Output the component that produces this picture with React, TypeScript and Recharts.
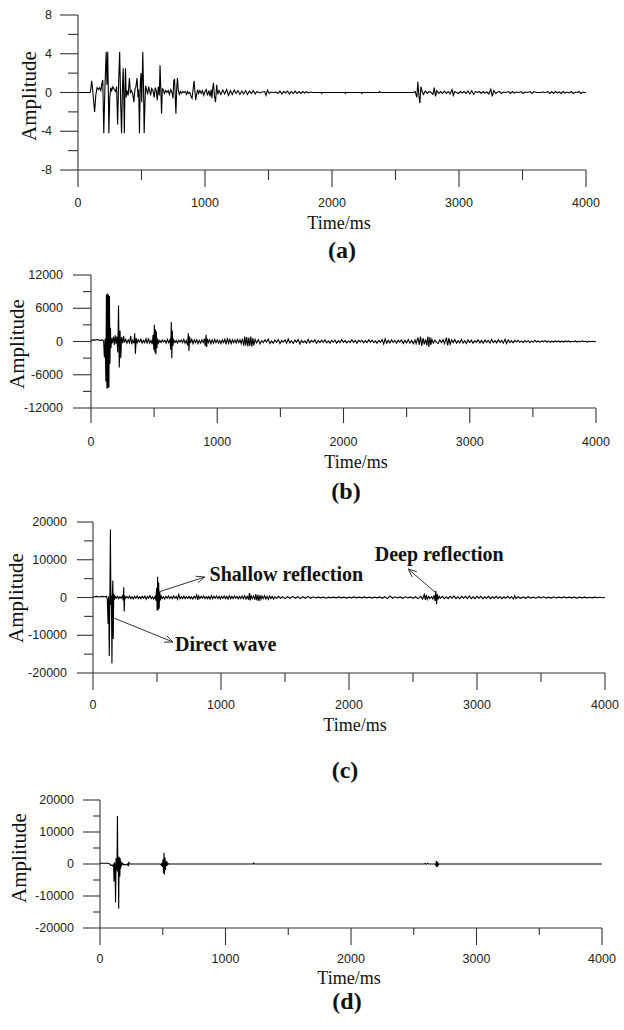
import React from 'react';
import { LineChart, Line, XAxis, YAxis, Label, ReferenceLine, ReferenceDot } from 'recharts';

// time axis (ms) shared by all four traces
const xTicks = [0, 500, 1000, 1500, 2000, 2500, 3000, 3500, 4000];
const yTicksA = [-8, -6, -4, -2, 0, 2, 4, 6, 8];
const yTicksB = [-12000, -9000, -6000, -3000, 0, 3000, 6000, 9000, 12000];
const yTicksCD = [-20000, -15000, -10000, -5000, 0, 5000, 10000, 15000, 20000];

// [time ms, amplitude]
const traceA: [number, number][] = [
  [0, 0], [95, 0], [100, 0.3], [108, 1.2], [116, 0.2], [124, -1.0], [131, -2.0], [140, -0.3], [150, 0.5],
  [160, 0.3], [170, 0.5], [180, 0.2], [188, 0.9], [195, 1.3], [203, -4.2], [212, 0.5], [222, 4.2], [228, 0.8],
  [234, 4.2], [240, -1.0], [243, -4.2], [250, -0.5], [258, 0.5], [265, 0.2], [275, 0.6], [285, 0.3], [296, 0.1],
  [304, 0.6], [312, -3.3], [320, 1.0], [328, 4.2], [336, -1.0], [343, -4.2], [350, 0.5], [356, 2.5], [361, -1.0],
  [365, -4.2], [370, 0.5], [374, 2.5], [380, -0.5], [386, 0.2], [395, -0.3], [405, 1.5], [412, 0.0], [420, 0.2],
  [430, -0.1], [440, -1.0], [448, 0.3], [456, 0.6], [465, 1.5], [472, -0.5], [478, 0.3], [484, -4.2], [490, 0.8],
  [496, 2.0], [502, -1.0], [510, 4.2], [516, 0.5], [521, -4.2], [527, -1.2], [532, 0.7], [540, 0.3], [548, -0.2],
  [556, 0.6], [564, 0.2], [572, -0.3], [580, 0.4], [590, 0.2], [600, -0.5], [608, 0.5], [616, 0.2], [624, -0.8],
  [632, 0.6], [640, -0.3], [646, 2.8], [652, 0.3], [658, -2.2], [664, 0.4], [672, 0.3], [680, -0.1], [690, 0.2],
  [700, 0.0], [710, 0.2], [720, -0.2], [730, 0.3], [740, 0.0], [748, -0.6], [754, 1.2], [760, 1.4], [766, -0.5],
  [771, -2.2], [777, 0.4], [783, 1.5], [790, 0.2], [798, -0.2], [806, 0.1], [815, -0.1], [825, 0.1], [835, 0.0],
  [845, 0.1], [855, -0.2], [862, 0.1], [870, -0.1], [880, 0.0], [890, -0.4], [898, -0.6], [906, 0.3], [914, 1.2],
  [920, 0.2], [927, -0.8], [934, -0.2], [942, 0.3], [950, -0.1], [960, 0.2], [970, -0.1], [980, 0.2], [990, -0.3],
  [1000, 0.1], [1010, 0.3], [1020, -0.3], [1030, 0.2], [1040, -0.4], [1048, 0.3], [1055, -0.6], [1061, 0.5],
  [1067, 1.0], [1074, -0.3], [1083, -1.0], [1092, 0.8], [1100, -0.2], [1110, 0.2], [1125, -0.2], [1140, 0.25],
  [1155, -0.15], [1170, 0.3], [1185, -0.3], [1200, 0.2], [1215, -0.2], [1230, 0.25], [1245, -0.1], [1260, 0.2],
  [1275, -0.2], [1290, 0.15], [1305, -0.15], [1320, 0.2], [1335, -0.2], [1350, 0.15], [1365, -0.1], [1380, 0.2],
  [1395, -0.15], [1410, 0.1], [1430, -0.05], [1450, 0.05], [1470, 0.1], [1480, -0.3], [1492, 0.25], [1505, -0.1],
  [1520, 0.05], [1540, 0], [1560, 0.05], [1575, -0.1], [1590, 0.15], [1605, -0.15], [1620, 0.1], [1635, -0.05],
  [1650, 0.15], [1665, -0.15], [1680, 0.1], [1695, -0.1], [1710, 0.15], [1725, -0.1], [1740, 0.1], [1755, -0.1],
  [1770, 0.1], [1785, -0.05], [1800, 0.08], [1815, -0.05], [1830, 0.05], [1850, 0], [1915, 0], [1920, -0.1],
  [1925, 0], [2100, 0], [2105, -0.1], [2110, 0], [2230, 0], [2235, -0.1], [2240, 0], [2370, 0], [2375, 0.1],
  [2380, 0], [2640, 0], [2655, 0.1], [2668, -0.5], [2676, 1.1], [2684, -0.3], [2692, -1.1], [2700, 0.6],
  [2710, 0.1], [2720, -0.2], [2735, 0.15], [2750, -0.1], [2765, 0.1], [2780, 0.0], [2795, -0.2], [2805, 0.5],
  [2815, -0.4], [2825, 0.2], [2840, -0.1], [2855, 0.1], [2870, -0.1], [2885, 0.15], [2900, -0.1], [2915, 0.1],
  [2930, -0.15], [2945, 0.3], [2955, -0.3], [2965, 0.1], [2980, 0.0], [2995, -0.1], [3010, 0.1], [3025, -0.05],
  [3040, 0.1], [3055, -0.1], [3070, 0.15], [3085, -0.15], [3100, 0.2], [3115, -0.2], [3130, 0.1], [3145, 0],
  [3160, 0.1], [3175, -0.1], [3190, 0.1], [3205, -0.05], [3220, 0.05], [3235, -0.15], [3250, 0.35], [3262, -0.4],
  [3274, 0.2], [3290, -0.1], [3305, 0.05], [3320, 0.1], [3335, -0.1], [3350, 0.05], [3370, 0], [3390, 0.1],
  [3405, -0.1], [3420, 0.1], [3435, -0.05], [3450, 0.05], [3470, 0], [3490, 0.1], [3505, -0.1], [3520, 0.05],
  [3540, 0], [3560, 0.1], [3575, -0.1], [3590, 0.1], [3610, 0], [3640, 0], [3660, 0.05], [3680, 0], [3700, 0.1],
  [3715, -0.1], [3730, 0.1], [3745, -0.1], [3760, 0.1], [3775, -0.05], [3790, 0.05], [3805, -0.1], [3820, 0.1],
  [3835, -0.05], [3850, 0.05], [3870, -0.05], [3885, 0.1], [3900, -0.1], [3915, 0.05], [3930, 0], [3945, 0.1],
  [3960, -0.1], [3975, 0.05], [3990, 0], [4000, 0],
];

const traceB: [number, number][] = [
  [0, 0], [10, 300], [30, 250], [50, 350], [70, 200], [90, 300], [100, 100], [106, -2900], [112, 500], [118, -7200],
  [122, 8500], [126, -8500], [130, 8600], [134, -8400], [138, 8500], [142, -8300], [146, 8200], [150, -4000],
  [154, 2500], [158, -1200], [164, 600], [170, -300], [178, 900], [185, -600], [192, 1100], [198, -400], [205, 900],
  [212, -2000], [218, 6500], [224, -4700], [230, 2000], [236, -3000], [242, 800], [250, -300], [258, 1000],
  [265, -200], [275, 400], [285, -300], [295, 300], [305, -200], [315, 1000], [322, -500], [330, 200], [340, -300],
  [346, 1500], [352, -2200], [358, 600], [366, -200], [375, 300], [385, -100], [395, 400], [405, -300], [415, 200],
  [425, -200], [435, 500], [445, -400], [455, 600], [465, -300], [475, 200], [485, -500], [492, 1200], [498, -1500],
  [502, 3000], [506, -2000], [510, 2200], [514, -2300], [518, 1800], [522, -1200], [528, 500], [535, -300],
  [545, 200], [555, -200], [565, 300], [575, -100], [585, 200], [595, -300], [605, 400], [615, -200], [625, 300],
  [632, -1500], [636, 3500], [640, -3000], [644, 2000], [648, -800], [655, 300], [665, -200], [675, 200],
  [685, -300], [695, 200], [705, -100], [715, 300], [725, -200], [735, 400], [745, -300], [755, 200], [765, -700],
  [771, 1500], [776, -1700], [781, 900], [788, -300], [798, 400], [808, -400], [818, 300], [828, -200], [838, 300],
  [848, -400], [858, 200], [868, -300], [878, 300], [888, -200], [898, 500], [905, -800], [911, 1200], [916, -1000],
  [922, 500], [930, -200], [940, 300], [950, -400], [960, 300], [970, -300], [980, 400], [990, -200], [1000, 300],
  [1010, -300], [1020, 200], [1030, -400], [1040, 300], [1050, -200], [1060, 400], [1070, -500], [1080, 600],
  [1090, -300], [1100, 400], [1110, -400], [1120, 300], [1130, -200], [1140, 300], [1150, -300], [1160, 400],
  [1170, -200], [1180, 300], [1190, -400], [1200, 500], [1210, -800], [1218, 900], [1226, -700], [1234, 800],
  [1242, -900], [1250, 700], [1258, -800], [1266, 900], [1274, -900], [1282, 600], [1290, -700], [1300, 400],
  [1312, -250], [1326, 350], [1338, -450], [1352, 150], [1365, -200], [1378, 300], [1390, -100], [1404, 450],
  [1417, -350], [1430, 100], [1444, -300], [1456, 250], [1470, -150], [1483, 350], [1497, -400], [1510, 200],
  [1522, -100], [1536, 300], [1549, -300], [1562, 450], [1575, -250], [1588, 150], [1602, -350], [1615, 250],
  [1628, -150], [1641, 350], [1655, -450], [1668, 200], [1681, -200], [1694, 100], [1707, -300], [1720, 400],
  [1733, -250], [1746, 200], [1760, -100], [1773, 300], [1786, -350], [1800, 150], [1813, -200], [1826, 250],
  [1840, -150], [1853, 300], [1866, -250], [1880, 100], [1893, -300], [1906, 200], [1920, -100], [1933, 250],
  [1946, -300], [1960, 150], [1973, -200], [1986, 300], [2000, -150], [2013, 200], [2026, -250], [2040, 100],
  [2053, -200], [2066, 300], [2080, -150], [2093, 200], [2106, -300], [2120, 250], [2133, -100], [2146, 200],
  [2160, -250], [2173, 150], [2186, -200], [2200, 300], [2213, -150], [2226, 250], [2240, -200], [2253, 100],
  [2266, -300], [2280, 200], [2293, -150], [2306, 350], [2318, -450], [2330, 500], [2342, -300], [2355, 200],
  [2368, -250], [2381, 300], [2394, -150], [2407, 200], [2420, -300], [2433, 250], [2446, -100], [2460, 300],
  [2473, -350], [2486, 200], [2500, -250], [2513, 350], [2526, -300], [2540, 200], [2553, -400], [2566, 300],
  [2575, -400], [2590, 700], [2600, -600], [2610, 900], [2620, -800], [2630, 600], [2640, -500], [2650, 400],
  [2660, -700], [2668, 900], [2676, -1000], [2684, 800], [2692, -600], [2700, 400], [2712, -300], [2724, 250],
  [2737, -150], [2750, -350], [2763, 300], [2776, -200], [2789, 350], [2800, -400], [2815, 700], [2825, -700],
  [2835, 600], [2845, -500], [2857, 300], [2870, -200], [2882, 350], [2895, -300], [2908, 150], [2921, -250],
  [2934, 400], [2947, -300], [2960, 150], [2973, -350], [2986, 300], [3000, -200], [3013, 250], [3026, -300],
  [3040, 150], [3053, -150], [3066, 300], [3080, -250], [3093, 200], [3106, -300], [3120, 250], [3133, -150],
  [3146, 200], [3160, -300], [3173, 350], [3186, -200], [3200, 150], [3213, -250], [3226, 300], [3240, -150],
  [3253, 200], [3266, -300], [3280, 400], [3292, -350], [3305, 300], [3318, -200], [3331, 150], [3344, -250],
  [3357, 200], [3370, -100], [3383, 200], [3396, -150], [3410, 100], [3423, -200], [3436, 150], [3450, -100],
  [3463, 150], [3476, -200], [3490, 100], [3503, -150], [3516, 200], [3530, -100], [3543, 100], [3556, -150],
  [3570, 100], [3583, -50], [3596, 150], [3610, -100], [3623, 100], [3636, -150], [3650, 50], [3663, -100],
  [3676, 100], [3690, -50], [3703, 100], [3716, -100], [3730, 50], [3743, -100], [3756, 100], [3770, -50],
  [3783, 100], [3796, -100], [3810, 50], [3823, -50], [3836, 100], [3850, -100], [3863, 50], [3876, -50],
  [3890, 100], [3903, -50], [3916, 50], [3930, -100], [3943, 50], [3956, -50], [3970, 50], [3983, -50], [4000, 0],
];

const traceC: [number, number][] = [
  [0, 0], [10, 200], [30, 300], [50, 150], [70, 300], [90, 200], [105, 300], [112, -500], [118, -7000], [122, 300],
  [127, -15500], [132, 1000], [136, 18000], [140, -2000], [144, 500], [148, -17500], [152, 1500], [155, 4500],
  [158, -11000], [162, 1000], [166, -600], [172, 300], [180, -200], [190, 300], [200, -300], [210, 200], [220, -200],
  [230, 400], [236, -800], [240, 2700], [244, -3700], [248, 500], [255, -200], [265, 300], [275, -200], [285, 400],
  [295, -300], [305, 200], [315, -400], [325, 300], [335, -200], [345, 400], [355, -300], [365, 200], [375, -300],
  [385, 300], [395, -200], [405, 400], [415, -500], [425, 300], [435, -200], [445, 500], [455, -300], [465, 200],
  [475, -400], [485, 300], [492, -800], [497, 2500], [501, -3500], [505, 5500], [509, -3300], [513, 4000],
  [517, -3000], [521, 1500], [526, -800], [532, 400], [540, -300], [550, 200], [560, -400], [570, 300], [580, -200],
  [590, 400], [600, -300], [610, 200], [620, -300], [630, 400], [640, -200], [650, 300], [660, -500], [670, 800],
  [680, -300], [690, 200], [700, -300], [710, 400], [720, -300], [730, 200], [740, -200], [750, 300], [760, -300],
  [770, 200], [780, -400], [790, 300], [800, -200], [810, 700], [818, -600], [826, 400], [835, -300], [845, 300],
  [855, -200], [865, 400], [875, -300], [885, 200], [895, -300], [905, 300], [915, -400], [925, 500], [935, -300],
  [945, 300], [955, -200], [965, 400], [975, -300], [985, 300], [995, -400], [1005, 300], [1015, -200], [1025, 400],
  [1035, -300], [1045, 300], [1055, -400], [1065, 500], [1075, -300], [1085, 300], [1095, -300], [1105, 400],
  [1115, -200], [1125, 300], [1135, -400], [1145, 300], [1155, -300], [1165, 400], [1175, -300], [1185, 500],
  [1195, -400], [1205, 300], [1215, -600], [1222, 1200], [1228, -800], [1235, 500], [1245, -300], [1255, 400],
  [1265, -600], [1272, 900], [1280, -800], [1288, 700], [1296, -900], [1304, 600], [1312, -500], [1320, 400],
  [1330, -300], [1340, 500], [1350, -400], [1360, 300], [1370, -500], [1380, 400], [1390, -300], [1400, 300],
  [1410, -400], [1420, 200], [1435, -200], [1450, 300], [1465, -200], [1480, 200], [1500, -300], [1520, 200],
  [1540, -200], [1560, 300], [1580, -200], [1600, 200], [1620, -300], [1640, 200], [1660, -200], [1680, 300],
  [1700, -200], [1720, 200], [1740, -100], [1760, 100], [1780, -100], [1800, 100], [1820, -200], [1840, 100],
  [1860, -100], [1880, 100], [1900, -100], [1920, 150], [1940, -100], [1960, 100], [1980, -150], [2000, 100],
  [2020, -100], [2040, 150], [2060, -100], [2080, 100], [2100, -100], [2120, 150], [2140, -100], [2160, 100],
  [2180, -150], [2200, 100], [2220, -100], [2240, 150], [2260, -200], [2280, 200], [2300, -300], [2320, 400],
  [2340, -200], [2360, 200], [2380, -100], [2400, 150], [2420, -200], [2440, 200], [2460, -100], [2480, 150],
  [2500, -200], [2520, 200], [2540, -300], [2560, 300], [2575, -400], [2588, 800], [2596, -600], [2604, 700],
  [2612, -500], [2622, 300], [2632, -300], [2645, 200], [2655, -400], [2665, 600], [2672, -900], [2678, 1700],
  [2684, -1800], [2690, 900], [2697, -500], [2705, 300], [2715, -200], [2730, 300], [2745, -300], [2760, 200],
  [2775, -300], [2790, 300], [2805, -200], [2820, 400], [2835, -300], [2850, 200], [2865, -300], [2880, 300],
  [2895, -200], [2910, 300], [2925, -300], [2940, 400], [2955, -300], [2970, 200], [2985, -300], [3000, 300],
  [3015, -200], [3030, 300], [3045, -300], [3060, 200], [3075, -200], [3090, 300], [3105, -300], [3120, 200],
  [3135, -200], [3150, 300], [3165, -200], [3180, 200], [3195, -300], [3210, 200], [3225, -200], [3240, 300],
  [3255, -200], [3270, 200], [3285, -400], [3295, 500], [3305, -300], [3320, 200], [3340, -200], [3360, 150],
  [3380, -200], [3400, 200], [3420, -150], [3440, 100], [3460, -200], [3480, 150], [3500, -100], [3520, 200],
  [3540, -150], [3560, 100], [3580, -150], [3600, 200], [3620, -100], [3640, 100], [3660, -100], [3680, 150],
  [3700, -100], [3720, 100], [3740, -100], [3760, 100], [3780, -150], [3800, 100], [3820, -100], [3840, 100],
  [3860, -100], [3880, 50], [3900, -100], [3920, 100], [3940, -50], [3960, 50], [3980, -50], [4000, 0],
];

const traceD: [number, number][] = [
  [0, 0], [5, 250], [60, 250], [75, 100], [85, -400], [95, -300], [102, -600], [108, -200], [112, -5500], [116, 500],
  [120, -1500], [124, -12000], [128, 1800], [132, -2000], [136, 2000], [139, 15000], [142, -2500], [145, 2200],
  [149, -14000], [152, 2300], [155, -2000], [158, -4000], [161, 1800], [164, -1500], [167, 800], [172, -400],
  [180, 200], [190, -300], [200, -100], [210, -300], [220, 0], [226, -700], [230, 700], [234, 0], [480, 0],
  [488, -300], [494, 400], [498, -900], [502, 1500], [506, -3000], [510, 3500], [514, -3300], [518, 2000],
  [522, -1800], [526, 1000], [530, -600], [535, 400], [540, -200], [546, 100], [552, 0], [1220, 0], [1225, 300],
  [1230, 0], [2585, 0], [2592, 200], [2600, -100], [2610, 200], [2618, 0], [2670, 0], [2676, -400], [2681, 1000],
  [2686, -1000], [2691, 600], [2696, -300], [2702, 0], [4000, 0],
];

const AXIS = '#333';
const SANS = '"Liberation Sans", Arial, sans-serif';
const SERIF = '"Liberation Serif", "Times New Roman", serif';

type TickLen = { major: number; minor: number; label: number };

type PanelCfg = {
  top: number;
  height: number;
  margin: { top: number; right: number; bottom: number; left: number };
  yDomain: [number, number];
  yTicks: number[];
  yStep: number;
  yTick: TickLen;
  xTick: TickLen;
  amp: { x: number; y: number };
  time: { x: number; y: number };
  caption: { x: number; y: number; text: string };
};

const panels: PanelCfg[] = [
  {
    top: 0, height: 240, margin: { top: 15, right: 38, bottom: 20, left: 18 },
    yDomain: [-8, 8], yTicks: yTicksA, yStep: 4,
    yTick: { major: 18, minor: 10, label: 26 }, xTick: { major: 17, minor: 10, label: 33 },
    amp: { x: 29, y: 96 }, time: { x: 339, y: 223 }, caption: { x: 342, y: 250, text: '(a)' },
  },
  {
    top: 250, height: 230, margin: { top: 25, right: 28, bottom: 22, left: 31 },
    yDomain: [-12000, 12000], yTicks: yTicksB, yStep: 6000,
    yTick: { major: 18, minor: 8, label: 28 }, xTick: { major: 15, minor: 9, label: 34 },
    amp: { x: 17, y: 94 }, time: { x: 356, y: 212 }, caption: { x: 346, y: 491, text: '(b)' },
  },
  {
    top: 500, height: 250, margin: { top: 22, right: 19, bottom: 27, left: 33 },
    yDomain: [-20000, 20000], yTicks: yTicksCD, yStep: 10000,
    yTick: { major: 16, minor: 9, label: 26 }, xTick: { major: 17, minor: 9, label: 32 },
    amp: { x: 16, y: 98 }, time: { x: 355, y: 225 }, caption: { x: 345, y: 770, text: '(c)' },
  },
  {
    top: 785, height: 205, margin: { top: 15, right: 22, bottom: 12, left: 40 },
    yDomain: [-20000, 20000], yTicks: yTicksCD, yStep: 10000,
    yTick: { major: 17, minor: 7, label: 26 }, xTick: { major: 17, minor: 7, label: 31 },
    amp: { x: 19, y: 73 }, time: { x: 349, y: 193 }, caption: { x: 347, y: 1001, text: '(d)' },
  },
];

const makeXTick = (t: TickLen) => (props: any) => {
  const { x, y, payload } = props;
  const major = payload.value % 1000 === 0;
  return (
    <g>
      <line x1={x} y1={y} x2={x} y2={y + (major ? t.major : t.minor)} stroke={AXIS} strokeWidth={1.1} />
      {major && (
        <text x={x} y={y + t.label} textAnchor="middle" dominantBaseline="central" fontSize={12.5} fontFamily={SANS} fill="#222">
          {payload.value}
        </text>
      )}
    </g>
  );
};

const makeYTick = (t: TickLen, step: number) => (props: any) => {
  const { x, y, payload } = props;
  const major = payload.value % step === 0;
  return (
    <g>
      <line x1={x - (major ? t.major : t.minor)} y1={y} x2={x} y2={y} stroke={AXIS} strokeWidth={1.1} />
      {major && (
        <text x={x - t.label} y={y} textAnchor="end" dominantBaseline="central" fontSize={12.5} fontFamily={SANS} fill="#222">
          {payload.value}
        </text>
      )}
    </g>
  );
};

const Arrow = (props: any) => {
  const { x1, y1, x2, y2 } = props;
  const ang = Math.atan2(y2 - y1, x2 - x1);
  const len = 9;
  const a1 = ang + Math.PI - 0.4;
  const a2 = ang + Math.PI + 0.4;
  return (
    <g stroke="#333" strokeWidth={1} fill="none">
      <line x1={x1} y1={y1} x2={x2} y2={y2} />
      <polyline
        points={`${x2 + len * Math.cos(a1)},${y2 + len * Math.sin(a1)} ${x2},${y2} ${x2 + len * Math.cos(a2)},${y2 + len * Math.sin(a2)}`}
      />
    </g>
  );
};

const note = (text: string) => (props: any) => (
  <text x={props.cx} y={props.cy} dominantBaseline="central" fontSize={20} fontWeight="bold" fontFamily={SERIF} fill="#111">
    {text}
  </text>
);

function TracePanel({ cfg, data, children }: { cfg: PanelCfg; data: [number, number][]; children?: React.ReactNode }) {
  const rows = data.map(([t, a]) => ({ t, a }));
  return (
    <div style={{ position: 'absolute', left: 0, top: cfg.top }}>
      <LineChart width={624} height={cfg.height} data={rows} margin={cfg.margin}>
        <XAxis
          type="number" dataKey="t" domain={[0, 4000]} ticks={xTicks} interval={0}
          height={50} tickSize={0} tickMargin={0} tickLine={false}
          stroke={AXIS} strokeWidth={1.1} tick={makeXTick(cfg.xTick)}
        >
          <Label
            value="Time/ms"
            content={() => (
              <text x={cfg.time.x} y={cfg.time.y} textAnchor="middle" dominantBaseline="central" fontSize={18} fontFamily={SERIF} fill="#111">
                Time/ms
              </text>
            )}
          />
        </XAxis>
        <YAxis
          type="number" domain={cfg.yDomain} ticks={cfg.yTicks} interval={0}
          width={60} tickSize={0} tickMargin={0} tickLine={false}
          stroke={AXIS} strokeWidth={1.1} tick={makeYTick(cfg.yTick, cfg.yStep)}
        >
          <Label
            value="Amplitude"
            content={() => (
              <text
                x={cfg.amp.x} y={cfg.amp.y} textAnchor="middle" dominantBaseline="central"
                transform={`rotate(-90 ${cfg.amp.x} ${cfg.amp.y})`}
                fontSize={21} fontFamily={SERIF} fill="#111"
              >
                Amplitude
              </text>
            )}
          />
        </YAxis>
        <Line type="linear" dataKey="a" stroke="#000" strokeWidth={1.1} dot={false} isAnimationActive={false} />
        {children}
      </LineChart>
    </div>
  );
}

export default function App() {
  return (
    <div style={{ position: 'absolute', left: 0, top: 0, width: 624, height: 1030, background: '#fff' }}>
      <TracePanel cfg={panels[0]} data={traceA} />
      <TracePanel cfg={panels[1]} data={traceB} />
      <TracePanel cfg={panels[2]} data={traceC}>
        <ReferenceLine segment={[{ x: 517, y: 1500 }, { x: 873, y: 5430 }]} shape={Arrow} />
        <ReferenceLine segment={[{ x: 2680, y: 1200 }, { x: 2463, y: 7550 }]} shape={Arrow} />
        <ReferenceLine segment={[{ x: 162, y: -5430 }, { x: 625, y: -11790 }]} shape={Arrow} />
        <ReferenceDot x={911} y={6225} r={0} shape={note('Shallow reflection')} />
        <ReferenceDot x={2201} y={11520} r={0} shape={note('Deep reflection')} />
        <ReferenceDot x={641} y={-12320} r={0} shape={note('Direct wave')} />
      </TracePanel>
      <TracePanel cfg={panels[3]} data={traceD} />
      {panels.map((p) => (
        <div
          key={p.caption.text}
          style={{
            position: 'absolute', left: p.caption.x, top: p.caption.y, transform: 'translate(-50%, -50%)',
            fontFamily: SERIF, fontWeight: 'bold', fontSize: 24, color: '#111', whiteSpace: 'nowrap',
          }}
        >
          {p.caption.text}
        </div>
      ))}
    </div>
  );
}
